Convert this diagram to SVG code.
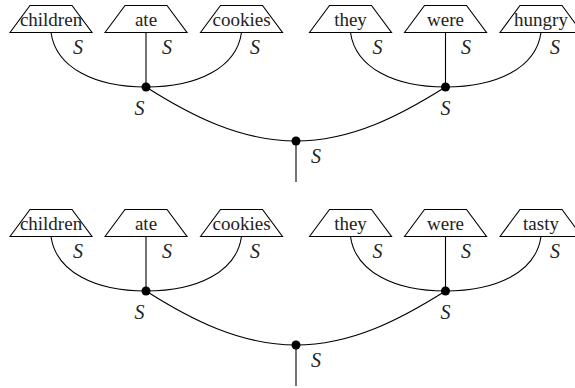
<svg xmlns="http://www.w3.org/2000/svg" width="575" height="388" viewBox="0 0 575 388" font-family="Liberation Serif, serif">
<defs>
<style>
text{font-family:Liberation Serif, serif !important}
.w polygon{fill:#fff;stroke:#000;stroke-width:1.1}
.w text{font-size:19px;text-anchor:middle;fill:#222}
.e{fill:none;stroke:#000;stroke-width:1.1}
.s{font-style:italic;font-size:20px;text-anchor:middle;fill:#222}
.d{fill:#000}
</style>
</defs>
<g id="diagram1">
<g id="connectors1">
<path class="e" d="M51,32.5 C56,68 95,87 146,87"/>
<path class="e" d="M146,32.5 L146,87"/>
<path class="e" d="M241.5,32.5 C236.5,68 197.5,87 146,87"/>
<path class="e" d="M350.5,32.5 C355.5,68 394.5,87 445.5,87"/>
<path class="e" d="M445.5,32.5 L445.5,87"/>
<path class="e" d="M541,32.5 C536,68 497,87 445.5,87"/>
<path class="e" d="M146,87 C190,115 240,141 296,141"/>
<path class="e" d="M445.5,87 C401,115 352,141 296,141"/>
<path class="e" d="M296,141 L296,182"/>
</g>
<g id="w1-children" class="w" transform="translate(51,0)"><polygon points="-41,32.5 -21,5.5 21,5.5 41,32.5"/><text x="0" y="26" style="font-family:Liberation Serif, serif !important">children</text></g>
<g id="w1-ate" class="w" transform="translate(146,0)"><polygon points="-41,32.5 -21,5.5 21,5.5 41,32.5"/><text x="0" y="26" style="font-family:Liberation Serif, serif !important">ate</text></g>
<g id="w1-cookies" class="w" transform="translate(241.5,0)"><polygon points="-41,32.5 -21,5.5 21,5.5 41,32.5"/><text x="0" y="26" style="font-family:Liberation Serif, serif !important">cookies</text></g>
<g id="w1-they" class="w" transform="translate(350.5,0)"><polygon points="-41,32.5 -21,5.5 21,5.5 41,32.5"/><text x="0" y="26" style="font-family:Liberation Serif, serif !important">they</text></g>
<g id="w1-were" class="w" transform="translate(445.5,0)"><polygon points="-41,32.5 -21,5.5 21,5.5 41,32.5"/><text x="0" y="26" style="font-family:Liberation Serif, serif !important">were</text></g>
<g id="w1-hungry" class="w" transform="translate(541,0)"><polygon points="-41,32.5 -21,5.5 21,5.5 41,32.5"/><text x="0" y="26" style="font-family:Liberation Serif, serif !important">hungry</text></g>
<g id="n1-left"><circle class="d" cx="146" cy="87" r="4.5"/></g>
<g id="n1-right"><circle class="d" cx="445.5" cy="87" r="4.5"/></g>
<g id="n1-root"><circle class="d" cx="296" cy="141" r="4.5"/></g>
<g id="labels1" style="font-family:Liberation Serif, serif">
<text class="s" x="78" y="54" style="font-family:Liberation Serif, serif !important">S</text>
<text class="s" x="167" y="54" style="font-family:Liberation Serif, serif !important">S</text>
<text class="s" x="255" y="54" style="font-family:Liberation Serif, serif !important">S</text>
<text class="s" x="377.5" y="54" style="font-family:Liberation Serif, serif !important">S</text>
<text class="s" x="466" y="54" style="font-family:Liberation Serif, serif !important">S</text>
<text class="s" x="555" y="54" style="font-family:Liberation Serif, serif !important">S</text>
<text class="s" x="139.5" y="115" style="font-family:Liberation Serif, serif !important">S</text>
<text class="s" x="445.5" y="115" style="font-family:Liberation Serif, serif !important">S</text>
<text class="s" x="316" y="163" style="font-family:Liberation Serif, serif !important">S</text>
</g>
</g>
<g id="diagram2" transform="translate(0,204)">
<g id="connectors2">
<path class="e" d="M51,32.5 C56,68 95,87 146,87"/>
<path class="e" d="M146,32.5 L146,87"/>
<path class="e" d="M241.5,32.5 C236.5,68 197.5,87 146,87"/>
<path class="e" d="M350.5,32.5 C355.5,68 394.5,87 445.5,87"/>
<path class="e" d="M445.5,32.5 L445.5,87"/>
<path class="e" d="M541,32.5 C536,68 497,87 445.5,87"/>
<path class="e" d="M146,87 C190,115 240,141 296,141"/>
<path class="e" d="M445.5,87 C401,115 352,141 296,141"/>
<path class="e" d="M296,141 L296,182"/>
</g>
<g id="w2-children" class="w" transform="translate(51,0)"><polygon points="-41,32.5 -21,5.5 21,5.5 41,32.5"/><text x="0" y="26" style="font-family:Liberation Serif, serif !important">children</text></g>
<g id="w2-ate" class="w" transform="translate(146,0)"><polygon points="-41,32.5 -21,5.5 21,5.5 41,32.5"/><text x="0" y="26" style="font-family:Liberation Serif, serif !important">ate</text></g>
<g id="w2-cookies" class="w" transform="translate(241.5,0)"><polygon points="-41,32.5 -21,5.5 21,5.5 41,32.5"/><text x="0" y="26" style="font-family:Liberation Serif, serif !important">cookies</text></g>
<g id="w2-they" class="w" transform="translate(350.5,0)"><polygon points="-41,32.5 -21,5.5 21,5.5 41,32.5"/><text x="0" y="26" style="font-family:Liberation Serif, serif !important">they</text></g>
<g id="w2-were" class="w" transform="translate(445.5,0)"><polygon points="-41,32.5 -21,5.5 21,5.5 41,32.5"/><text x="0" y="26" style="font-family:Liberation Serif, serif !important">were</text></g>
<g id="w2-tasty" class="w" transform="translate(541,0)"><polygon points="-41,32.5 -21,5.5 21,5.5 41,32.5"/><text x="0" y="26" style="font-family:Liberation Serif, serif !important">tasty</text></g>
<g id="n2-left"><circle class="d" cx="146" cy="87" r="4.5"/></g>
<g id="n2-right"><circle class="d" cx="445.5" cy="87" r="4.5"/></g>
<g id="n2-root"><circle class="d" cx="296" cy="141" r="4.5"/></g>
<g id="labels2">
<text class="s" x="78" y="54" style="font-family:Liberation Serif, serif !important">S</text>
<text class="s" x="167" y="54" style="font-family:Liberation Serif, serif !important">S</text>
<text class="s" x="255" y="54" style="font-family:Liberation Serif, serif !important">S</text>
<text class="s" x="377.5" y="54" style="font-family:Liberation Serif, serif !important">S</text>
<text class="s" x="466" y="54" style="font-family:Liberation Serif, serif !important">S</text>
<text class="s" x="555" y="54" style="font-family:Liberation Serif, serif !important">S</text>
<text class="s" x="139.5" y="115" style="font-family:Liberation Serif, serif !important">S</text>
<text class="s" x="445.5" y="115" style="font-family:Liberation Serif, serif !important">S</text>
<text class="s" x="316" y="163" style="font-family:Liberation Serif, serif !important">S</text>
</g>
</g>
</svg>
